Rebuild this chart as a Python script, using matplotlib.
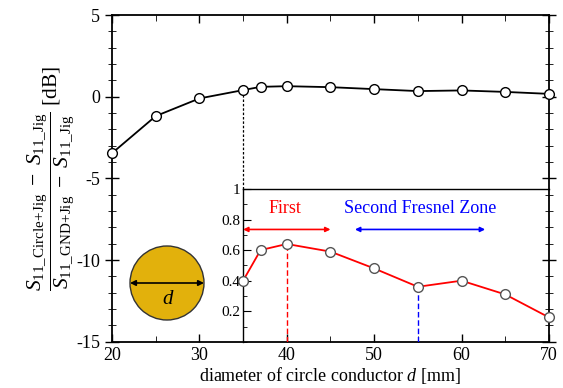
import numpy as np
import matplotlib.pyplot as plt
from matplotlib.patches import Circle
from matplotlib.ticker import MultipleLocator

plt.rcParams['font.family'] = ['Liberation Serif', 'DejaVu Serif']
plt.rcParams['mathtext.fontset'] = 'custom'
plt.rcParams['mathtext.rm'] = 'Liberation Serif'
plt.rcParams['mathtext.it'] = 'Liberation Serif:italic'
plt.rcParams['axes.unicode_minus'] = False

# main curve [dB]
diameter = [20, 25, 30, 35, 37, 40, 45, 50, 55, 60, 65, 70]
ratio_db = [-3.45, -1.18, -0.1, 0.41, 0.61, 0.65, 0.59, 0.47, 0.35, 0.39, 0.30, 0.18]

# inset (linear)
inset_d = [35, 37, 40, 45, 50, 55, 60, 65, 70]
inset_val = [0.40, 0.60, 0.64, 0.59, 0.48, 0.36, 0.40, 0.31, 0.16]

fig = plt.figure(figsize=(5.63, 3.88), dpi=100)
ax = fig.add_axes([0.199, 0.119, 0.776, 0.842])

ax.plot(diameter, ratio_db, color='black', lw=1.3, marker='o', ms=7,
        mfc='white', mec='black', mew=1.0, zorder=5, clip_on=False)
ax.set_xlim(20, 70)
ax.set_ylim(-15, 5)
ax.xaxis.set_major_locator(MultipleLocator(10))
ax.xaxis.set_minor_locator(MultipleLocator(5))
ax.yaxis.set_major_locator(MultipleLocator(5))
ax.yaxis.set_minor_locator(MultipleLocator(1))
ax.tick_params(axis='y', which='both', direction='inout', left=True, right=True)
ax.tick_params(axis='y', which='major', length=10)
ax.tick_params(axis='y', which='minor', length=6)
ax.tick_params(axis='x', which='both', direction='in', top=True, bottom=True)
ax.tick_params(axis='x', which='major', length=6)
ax.tick_params(axis='x', which='minor', length=4)
ax.tick_params(labelsize=13, width=1)
for s in ax.spines.values():
    s.set_linewidth(1.3)

ax.set_xlabel('diameter of circle conductor $\\mathit{d}$ [mm]', fontsize=13, labelpad=1)
ax.set_ylabel(r'$\dfrac{S_{\mathrm{11\_Circle\!+\!Jig}}\ -\ S_{\mathrm{11\_Jig}}}'
              r'{S_{\mathrm{11\_GND\!+\!Jig}}\ -\ S_{\mathrm{11\_Jig}}}$ [dB]',
              fontsize=15.5, labelpad=0)

# inset drawn in main data coordinates
inset_top = -5.64
ax.plot([35, 35], [inset_top, 0.41], color='black', lw=0.9, ls=(0, (2, 1.5)), zorder=1)

ins = ax.inset_axes([35, -15, 35, inset_top + 15], transform=ax.transData)
ins.plot(inset_d, inset_val, color='red', lw=1.3, marker='o', ms=7,
         mfc='white', mec='#555555', mew=1.0, zorder=5, clip_on=False)
ins.set_xlim(35, 70)
ins.set_ylim(0, 1)
ins.set_yticks([0.2, 0.4, 0.6, 0.8, 1.0])
ins.set_yticklabels(['0.2', '0.4', '0.6', '0.8', '1'])
ins.yaxis.set_minor_locator(MultipleLocator(0.1))
ins.set_xticks([])
ins.tick_params(axis='y', which='both', direction='in', labelsize=11, pad=2)
ins.tick_params(axis='y', which='major', length=6)
ins.tick_params(axis='y', which='minor', length=3)
ins.patch.set_alpha(0)
for s in ins.spines.values():
    s.set_linewidth(1.0)
ins.spines['bottom'].set_visible(False)
ins.spines['right'].set_visible(False)

ins.plot([40, 40], [0, 0.64], color='red', lw=1.0, ls=(0, (4, 2)))
ins.plot([55, 55], [0, 0.36], color='blue', lw=1.0, ls=(0, (4, 2)))

ins.annotate('', xy=(35, 0.735), xytext=(45, 0.735),
             arrowprops=dict(arrowstyle='<|-|>', color='red', lw=1.2,
                             mutation_scale=7, shrinkA=0, shrinkB=0))
ins.annotate('', xy=(47.8, 0.735), xytext=(62.7, 0.735),
             arrowprops=dict(arrowstyle='<|-|>', color='blue', lw=1.2,
                             mutation_scale=7, shrinkA=0, shrinkB=0))
ins.text(39.8, 0.87, 'First', color='red', fontsize=13, ha='center', va='center')
ins.text(55.3, 0.87, 'Second Fresnel Zone', color='blue', fontsize=13,
         ha='center', va='center')

# circle conductor sketch in its own small axes
cax = fig.add_axes([(167 - 42) / 563, (388 - 283 - 42) / 388, 84 / 563, 84 / 388])
cax.set_xlim(-42, 42)
cax.set_ylim(-42, 42)
cax.set_aspect('equal')
cax.axis('off')
cax.add_patch(Circle((0, 0), 37, facecolor='#E2B10C', edgecolor='#333333', lw=1.0))
cax.annotate('', xy=(-37, 0), xytext=(37, 0),
             arrowprops=dict(arrowstyle='<|-|>', color='black', lw=1.2,
                             mutation_scale=8, shrinkA=0, shrinkB=0))
cax.text(1, -16, '$\\mathit{d}$', fontsize=15, ha='center', va='center')

fig.savefig('out.png', dpi=100)
